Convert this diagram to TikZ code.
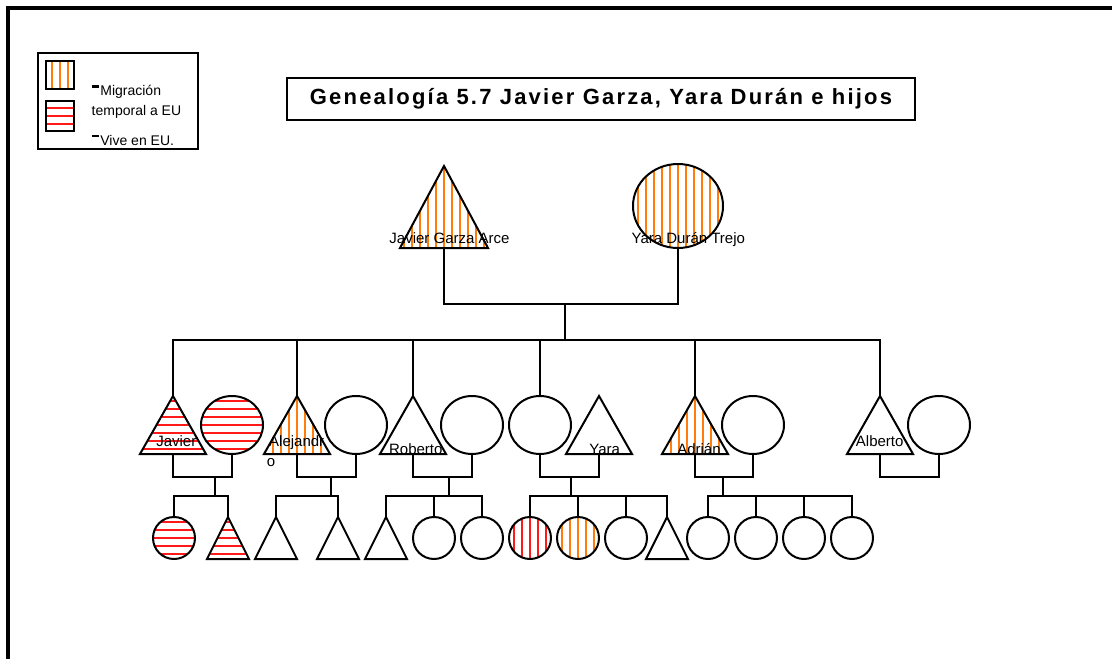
\documentclass[tikz,border=0pt]{standalone}
\usepackage{fontspec}
\setmainfont{Liberation Sans}
\newfontfamily\titlefont[LetterSpace=10]{Liberation Sans}
\usetikzlibrary{shapes.geometric}

\definecolor{migcol}{RGB}{255,125,10}
\definecolor{vivecol}{RGB}{255,25,25}

% small raised dash in front of the legend entries
\newcommand{\dashmark}{\rule[0.55em]{0.5em}{0.19em}\kern0.12em}

\begin{document}
\begin{tikzpicture}[x=1pt, y=-1pt,
  vstripes/.style={path picture={
    \foreach \k in {-64,-56,...,64}
      \draw[#1, line width=2pt] ([xshift=\k pt]path picture bounding box.south) -- ([xshift=\k pt]path picture bounding box.north);}},
  hstripes/.style={path picture={
    \foreach \k in {-64,-56,...,64}
      \draw[#1, line width=2pt] ([yshift=\k pt]path picture bounding box.west) -- ([yshift=\k pt]path picture bounding box.east);}},
  mig/.style={vstripes=migcol},
  vive/.style={hstripes=vivecol},
  vivev/.style={vstripes=vivecol},
  man/.style={isosceles triangle, isosceles triangle stretches, shape border rotate=90,
    draw, line width=2pt, inner sep=0pt, outer sep=0pt, anchor=lower side},
  woman/.style={ellipse, draw, line width=2pt, inner sep=0pt, outer sep=0pt},
  tri1/.style={man, minimum width=88pt, minimum height=82pt},
  circ1/.style={woman, minimum width=90pt, minimum height=84pt},
  tri2/.style={man, minimum width=66pt, minimum height=58pt},
  circ2/.style={woman, minimum width=62pt, minimum height=58pt},
  tri3/.style={man, minimum width=42pt, minimum height=42pt},
  circ3/.style={woman, minimum width=42pt, minimum height=42pt},
  box/.style={draw, line width=2pt, inner sep=0pt},
  swatch/.style={draw, line width=2pt, inner sep=0pt, minimum width=28pt, minimum height=28pt},
  legtext/.style={anchor=base west, inner sep=0pt, font=\fontsize{14}{16}\selectfont},
  lbl/.style={anchor=base, inner sep=0pt, font=\fontsize{15}{17}\selectfont},
  line/.style={line width=2pt}
]
\useasboundingbox (0,0) rectangle (1112,659);

% frame
\draw[line width=4pt] (8,659) -- (8,8) -- (1112,8);

% legend
\node[box, minimum width=160pt, minimum height=96pt] (legend) at (118,101) {};
\node[swatch, mig] (legMig) at (60,75) {};
\node[swatch, vive, minimum height=30pt] (legVive) at (60,116) {};
\node[legtext] (tMig) at (91.5,95.7) {\dashmark Migración};
\node[legtext] (tMigB) at (91.5,115) {temporal a EU};
\node[legtext] (tVive) at (91.5,145) {\dashmark Vive en EU.};

% title
\node[box, minimum width=628pt, minimum height=42pt, font=\titlefont\bfseries\fontsize{22}{26}\selectfont]
  (title) at (601,99) {Genealogía 5.7 Javier Garza, Yara Durán e hijos};

% parents
\node[tri1, mig] (jga) at (444,248) {};
\node[circ1, mig] (ydt) at (678,206) {};
\node[lbl] (lJga) at (449.5,243.3) {Javier Garza Arce};
\node[lbl] (lYdt) at (688.3,243.3) {Yara Durán Trejo};

\coordinate (pmid) at (565,304);
\coordinate (sib) at (565,340);
\draw[line] (jga.lower side) |- (pmid) -| (ydt.south);
\draw[line] (pmid) -- (sib);

% children and their partners
\node[tri2, vive] (javier) at (173,454) {};
\node[circ2, vive] (javierW) at (232,425) {};
\node[tri2, mig] (alejandro) at (297,454) {};
\node[circ2] (alejandroW) at (356,425) {};
\node[tri2] (roberto) at (413,454) {};
\node[circ2] (robertoW) at (472,425) {};
\node[circ2] (yara) at (540,425) {};
\node[tri2] (yaraH) at (599,454) {};
\node[tri2, mig] (adrian) at (695,454) {};
\node[circ2] (adrianW) at (753,425) {};
\node[tri2] (alberto) at (880,454) {};
\node[circ2] (albertoW) at (939,425) {};

\node[lbl] (lJav) at (176.3,446) {Javier};
\node[lbl] (lAle) at (296.7,446) {Alejandr};
\node[lbl] (lAleB) at (271,466.7) {o};
\node[lbl] (lRob) at (415.8,454.3) {Roberto};
\node[lbl] (lYar) at (604.7,454.3) {Yara};
\node[lbl] (lAdr) at (699,454.3) {Adrián};
\node[lbl] (lAlb) at (879.7,446) {Alberto};

\foreach \c in {javier.apex, alejandro.apex, roberto.apex, yara.north, adrian.apex, alberto.apex}
  \draw[line] (\c) |- (sib);

% couples
\coordinate (cJ) at (215,477);
\coordinate (cA) at (331,477);
\coordinate (cR) at (449,477);
\coordinate (cY) at (571,477);
\coordinate (cD) at (723,477);
\draw[line] (javier.lower side) |- (cJ) -| (javierW.south);
\draw[line] (alejandro.lower side) |- (cA) -| (alejandroW.south);
\draw[line] (roberto.lower side) |- (cR) -| (robertoW.south);
\draw[line] (yara.south) |- (cY) -| (yaraH.lower side);
\draw[line] (adrian.lower side) |- (cD) -| (adrianW.south);
\draw[line] (alberto.lower side) -- ++(0,23) -| (albertoW.south);

% grandchildren
\node[circ3, vive] (j1) at (174,538) {};
\node[tri3, vive] (j2) at (228,559) {};
\node[tri3] (a1) at (276,559) {};
\node[tri3] (a2) at (338,559) {};
\node[tri3] (r1) at (386,559) {};
\node[circ3] (r2) at (434,538) {};
\node[circ3] (r3) at (482,538) {};
\node[circ3, vivev] (y1) at (530,538) {};
\node[circ3, mig] (y2) at (578,538) {};
\node[circ3] (y3) at (626,538) {};
\node[tri3] (y4) at (667,559) {};
\node[circ3] (d1) at (708,538) {};
\node[circ3] (d2) at (756,538) {};
\node[circ3] (d3) at (804,538) {};
\node[circ3] (d4) at (852,538) {};

\coordinate (kJ) at (215,496);
\coordinate (kA) at (331,496);
\coordinate (kR) at (449,496);
\coordinate (kY) at (571,496);
\coordinate (kD) at (723,496);
\draw[line] (cJ) -- (kJ);
\draw[line] (cA) -- (kA);
\draw[line] (cR) -- (kR);
\draw[line] (cY) -- (kY);
\draw[line] (cD) -- (kD);

\foreach \c in {j1.north, j2.apex}
  \draw[line] (\c) |- (kJ);
\foreach \c in {a1.apex, a2.apex}
  \draw[line] (\c) |- (kA);
\foreach \c in {r1.apex, r2.north, r3.north}
  \draw[line] (\c) |- (kR);
\foreach \c in {y1.north, y2.north, y3.north, y4.apex}
  \draw[line] (\c) |- (kY);
\foreach \c in {d1.north, d2.north, d3.north, d4.north}
  \draw[line] (\c) |- (kD);

\end{tikzpicture}
\end{document}
